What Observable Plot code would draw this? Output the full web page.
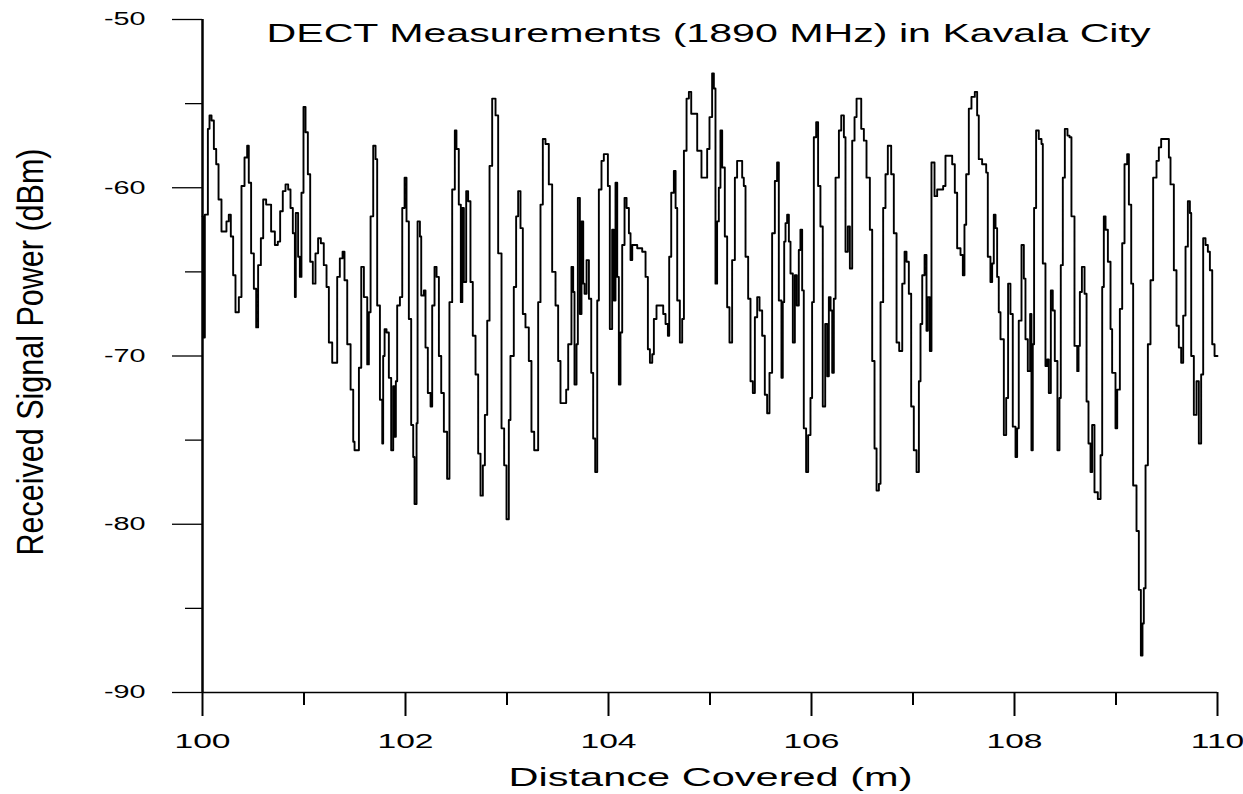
<!DOCTYPE html>
<html>
<head>
<meta charset="utf-8">
<script src="https://cdn.jsdelivr.net/npm/d3@7"></script>
<script src="https://cdn.jsdelivr.net/npm/@observablehq/plot@0.6"></script>
<style>
  html, body { margin: 0; padding: 0; background: #fff; }
  #chart svg { display: block; }
</style>
</head>
<body>
<div id="chart"></div>
<script>
const chartTitle = "DECT Measurements (1890 MHz) in Kavala City";
const xLabel = "Distance Covered (m)";
const yLabel = "Received Signal Power (dBm)";
const xMajorTicks = [100, 102, 104, 106, 108, 110];
const xMinorTicks = [101, 103, 105, 107, 109];
const yMajorTicks = [-50, -60, -70, -80, -90];
const yMinorTicks = [-55, -65, -75, -85];

// distance (m) at which each step of the trace begins
const distance = [
  // 100.0 - 101.2
  100.000,100.007,100.023,100.053,100.069,100.089,100.112,100.135,100.158,100.187,
  100.236,100.259,100.279,100.302,100.325,100.358,100.384,100.414,100.440,100.456,
  100.479,100.506,100.529,100.548,100.575,100.598,100.627,100.676,100.713,100.742,
  100.765,100.791,100.818,100.844,100.867,100.890,100.910,100.919,100.942,100.959,
  100.975,100.995,101.015,101.038,101.061,101.087,101.113,101.139,101.166,101.195,
  // 101.2 - 102.4
  101.222,101.245,101.278,101.327,101.353,101.380,101.399,101.426,101.459,101.485,
  101.498,101.541,101.564,101.590,101.623,101.639,101.656,101.682,101.705,101.721,
  101.748,101.771,101.780,101.794,101.813,101.836,101.859,101.879,101.891,101.905,
  101.918,101.945,101.968,101.991,102.010,102.033,102.056,102.076,102.089,102.109,
  102.119,102.142,102.155,102.181,102.197,102.220,102.247,102.263,102.286,102.306,
  102.329,102.352,102.378,
  // 102.4 - 103.6
  102.410,102.433,102.460,102.486,102.502,102.525,102.545,102.560,102.575,102.598,
  102.617,102.640,102.663,102.690,102.716,102.739,102.762,102.782,102.805,102.828,
  102.854,102.887,102.913,102.946,102.972,102.995,103.018,103.034,103.067,103.090,
  103.110,103.133,103.156,103.182,103.215,103.241,103.268,103.307,103.330,103.353,
  103.379,103.412,103.445,103.478,103.504,103.527,103.583,103.603,103.635,
  // 103.6 - 104.9
  103.652,103.665,103.685,103.698,103.718,103.734,103.751,103.764,103.784,103.807,
  103.830,103.849,103.869,103.889,103.905,103.931,103.954,103.994,104.013,104.036,
  104.053,104.069,104.086,104.102,104.118,104.135,104.158,104.178,104.201,104.217,
  104.234,104.283,104.332,104.365,104.388,104.408,104.431,104.447,104.473,104.539,
  104.562,104.585,104.598,104.618,104.644,104.661,104.677,104.703,104.726,104.743,
  104.769,104.792,104.815,104.874,
  // 104.9 - 106.1
  104.916,104.972,104.995,105.021,105.038,105.054,105.070,105.087,105.103,105.120,
  105.146,105.169,105.192,105.218,105.245,105.267,105.317,105.333,105.350,105.376,
  105.399,105.422,105.442,105.465,105.488,105.514,105.540,105.563,105.586,105.612,
  105.639,105.661,105.678,105.704,105.717,105.731,105.744,105.760,105.777,105.793,
  105.816,105.836,105.855,105.875,105.891,105.908,105.924,105.947,105.967,105.990,
  106.006,106.023,106.046,106.065,106.088,106.111,
  // 106.1 - 107.3
  106.135,106.155,106.171,106.188,106.204,106.220,106.237,106.270,106.293,106.319,
  106.335,106.358,106.378,106.401,106.424,106.444,106.490,106.516,106.542,106.575,
  106.598,106.621,106.641,106.664,106.680,106.706,106.729,106.752,106.785,106.811,
  106.838,106.864,106.894,106.917,106.936,106.959,106.982,107.008,107.035,107.058,
  107.074,107.091,107.114,107.133,107.146,107.166,107.182,107.212,107.238,107.297,
  107.320,
  // 107.3 - 108.6
  107.386,107.412,107.435,107.468,107.491,107.507,107.524,107.550,107.576,107.609,
  107.632,107.648,107.681,107.721,107.737,107.763,107.780,107.796,107.813,107.829,
  107.845,107.862,107.895,107.918,107.937,107.960,107.983,108.010,108.026,108.042,
  108.069,108.092,108.108,108.131,108.154,108.167,108.180,108.193,108.213,108.239,
  108.266,108.279,108.305,108.322,108.338,108.358,108.377,108.397,108.423,108.443,
  108.456,108.476,108.496,108.522,108.542,108.561,
  // 108.6 - 110.0
  108.591,108.618,108.631,108.644,108.664,108.690,108.710,108.729,108.749,108.765,
  108.788,108.821,108.848,108.864,108.880,108.897,108.920,108.946,108.962,108.995,
  109.012,109.038,109.061,109.084,109.110,109.127,109.150,109.169,109.202,109.225,
  109.245,109.261,109.274,109.291,109.314,109.340,109.366,109.399,109.422,109.445,
  109.521,109.537,109.570,109.596,109.619,109.642,109.662,109.685,109.708,109.728,
  109.741,109.767,109.793,109.816,109.839,109.859,109.882,109.905,109.925,109.948,
  109.971,110.000
];

// received signal power (dBm) of each step
const power = [
  // 100.0 - 101.2
  -61.7,-68.9,-61.6,-56.5,-55.7,-56.0,-57.7,-58.6,-60.7,-62.6,
  -62.0,-61.6,-62.9,-65.2,-67.4,-66.5,-59.9,-58.2,-57.5,-59.7,
  -63.9,-66.0,-68.3,-64.6,-63.0,-60.7,-61.0,-62.6,-63.4,-63.2,
  -61.4,-60.2,-59.8,-60.1,-61.2,-62.7,-66.5,-61.5,-64.1,-65.3,
  -60.3,-55.2,-56.7,-59.2,-64.4,-65.7,-63.9,-63.0,-63.3,-64.6,
  // 101.2 - 102.4
  -65.9,-69.2,-70.4,-65.3,-64.2,-63.8,-65.5,-69.3,-72.0,-75.1,
  -75.6,-70.7,-64.7,-66.5,-70.5,-67.4,-61.7,-57.5,-58.3,-67.0,
  -72.6,-75.2,-70.0,-68.4,-68.6,-71.3,-75.6,-71.8,-74.8,-71.5,
  -67.0,-66.5,-61.2,-59.4,-62.0,-67.8,-74.1,-76.0,-78.8,-74.0,
  -62.0,-62.9,-66.4,-66.1,-69.5,-72.2,-73.0,-67.0,-64.7,-65.3,
  -70.0,-72.2,-74.5,
  // 102.4 - 103.6
  -77.3,-66.8,-60.1,-56.6,-57.7,-61.0,-66.8,-61.2,-65.6,-60.2,
  -60.8,-65.6,-68.8,-71.1,-75.8,-78.3,-76.5,-73.5,-67.9,-58.7,
  -54.7,-55.7,-63.9,-74.3,-76.5,-79.7,-73.8,-70.0,-65.9,-61.7,
  -60.2,-62.4,-67.5,-68.3,-70.3,-74.5,-75.6,-66.8,-61.0,-57.1,
  -57.4,-59.8,-65.0,-67.0,-70.3,-72.8,-72.0,-69.3,-64.7,
  // 103.6 - 104.9
  -66.2,-71.7,-69.3,-60.6,-67.5,-62.0,-65.7,-66.3,-64.3,-66.6,
  -71.0,-74.9,-76.9,-66.7,-60.1,-58.4,-58.0,-59.9,-68.4,-62.5,
  -66.7,-59.7,-65.3,-71.7,-68.6,-63.4,-60.6,-61.2,-62.7,-64.3,
  -63.4,-63.6,-63.8,-65.3,-69.6,-70.4,-69.9,-67.8,-67.0,-67.5,
  -68.1,-68.8,-64.1,-60.3,-59.0,-61.2,-66.7,-69.2,-67.8,-57.8,
  -54.7,-54.3,-55.6,-57.8,
  // 104.9 - 106.1
  -59.4,-57.7,-55.8,-53.2,-54.1,-65.7,-62.0,-60.0,-56.6,-58.8,
  -62.9,-67.1,-69.2,-64.3,-59.4,-58.4,-59.4,-59.9,-64.1,-66.6,
  -71.5,-72.2,-67.7,-66.5,-67.3,-68.8,-72.3,-73.4,-71.0,-62.7,
  -59.6,-58.5,-66.7,-71.3,-66.8,-63.2,-62.1,-61.6,-63.2,-65.1,
  -69.2,-65.2,-67.0,-63.7,-62.5,-66.1,-74.3,-76.9,-74.7,-72.5,
  -66.8,-57.0,-56.1,-59.9,-62.3,-73.0,
  // 106.1 - 107.3
  -68.1,-71.2,-66.5,-67.3,-71.0,-66.6,-59.4,-56.6,-55.7,-57.0,
  -63.8,-62.3,-64.8,-57.2,-55.8,-54.7,-56.5,-57.2,-59.4,-62.5,
  -70.3,-75.5,-78.0,-77.6,-66.8,-61.2,-59.2,-57.5,-59.2,-62.7,
  -69.2,-69.7,-65.7,-63.8,-64.4,-66.3,-73.0,-75.6,-76.9,-71.5,
  -68.1,-65.2,-64.0,-68.5,-66.5,-69.7,-58.5,-60.5,-60.1,-59.9,
  -58.1,
  // 107.3 - 108.6
  -58.6,-60.3,-63.6,-64.0,-65.2,-62.2,-59.2,-55.3,-54.6,-54.3,
  -55.7,-58.3,-58.6,-59.1,-64.1,-65.6,-64.5,-61.6,-62.4,-65.3,
  -67.4,-69.0,-74.7,-72.5,-65.7,-67.5,-74.2,-76.0,-74.3,-67.9,
  -63.4,-65.4,-69.0,-70.9,-67.5,-75.6,-69.3,-61.2,-56.6,-57.1,
  -57.4,-64.5,-70.6,-70.2,-72.2,-66.1,-67.3,-70.3,-75.6,-72.5,
  -64.6,-59.4,-56.5,-56.9,-57.0,-61.7,
  // 108.6 - 110.0
  -69.4,-70.9,-69.4,-66.2,-64.7,-66.3,-72.7,-75.2,-76.9,-74.1,
  -78.1,-78.5,-75.9,-65.9,-61.7,-62.5,-64.4,-68.4,-71.0,-74.3,
  -72.0,-67.2,-63.3,-58.6,-58.0,-61.0,-65.7,-77.7,-80.4,-83.9,
  -87.8,-85.9,-83.8,-76.5,-69.3,-65.5,-59.4,-58.4,-57.6,-57.1,
  -58.2,-59.8,-64.9,-68.2,-69.5,-70.4,-67.6,-63.5,-60.8,-61.5,
  -70.0,-73.5,-71.5,-75.2,-71.1,-63.0,-63.4,-63.8,-64.9,-69.3,
  -70.0,-70.0
];

const n = Math.min(distance.length, power.length);
const idx = d3.range(n);

const svg = Plot.plot({
  width: 1243,
  height: 794,
  marginLeft: 202,
  marginRight: 26,
  marginTop: 19,
  marginBottom: 102,
  style: {
    fontFamily: "'Liberation Sans', Arial, Helvetica, sans-serif",
    color: "black",
    background: "white",
    overflow: "visible"
  },
  x: { domain: [100, 110] },
  y: { domain: [-90, -50] },
  marks: [
    Plot.axisY(yMajorTicks, { tickSize: 30, tickPadding: 27, fontSize: 18, strokeWidth: 1.3, tickFormat: d => String(d), label: null }),
    Plot.axisY(yMinorTicks, { tickSize: 17, tickFormat: () => "", strokeWidth: 1.3, label: null }),
    Plot.axisX(xMajorTicks, { tickSize: 24, tickPadding: 17, fontSize: 21, strokeWidth: 2, tickFormat: d => String(d), label: null }),
    Plot.axisX(xMinorTicks, { tickSize: 13, tickFormat: () => "", strokeWidth: 2, label: null }),
    Plot.ruleX([100], { strokeWidth: 2.5 }),
    Plot.ruleY([-90], { strokeWidth: 1.3 }),
    Plot.line(idx, {
      x: i => distance[i],
      y: i => power[i],
      curve: "step-after",
      stroke: "black",
      strokeWidth: 1.9
    }),
    Plot.text([chartTitle], { text: d => d, frameAnchor: "top", lineAnchor: "middle", dx: -1.5, dy: 13.7, fontSize: 26 }),
    Plot.text([xLabel], { text: d => d, frameAnchor: "bottom", lineAnchor: "middle", dx: 0.5, dy: 84.7, fontSize: 26 }),
    Plot.text([yLabel], { text: d => d, frameAnchor: "left", textAnchor: "start", lineAnchor: "middle", rotate: -90, dx: -171.5, dy: 199.5, fontSize: 36 })
  ]
});

document.getElementById("chart").append(svg);

// the reference's lettering is drawn wide; reproduce the widths of its texts
function fit(textEl, target) {
  textEl.setAttribute("textLength", target);
  textEl.setAttribute("lengthAdjust", "spacingAndGlyphs");
}
svg.querySelectorAll('g[aria-label="y-axis tick label"] text, g[aria-label="x-axis tick label"] text').forEach(t => {
  if (!t.textContent) return;
  fit(t, t.getComputedTextLength() * 1.6);
});
const textTargets = new Map([[chartTitle, 884], [xLabel, 404], [yLabel, 407]]);
svg.querySelectorAll('g[aria-label="text"] text').forEach(t => {
  const target = textTargets.get(t.textContent);
  if (target) fit(t, target);
});
</script>
</body>
</html>
